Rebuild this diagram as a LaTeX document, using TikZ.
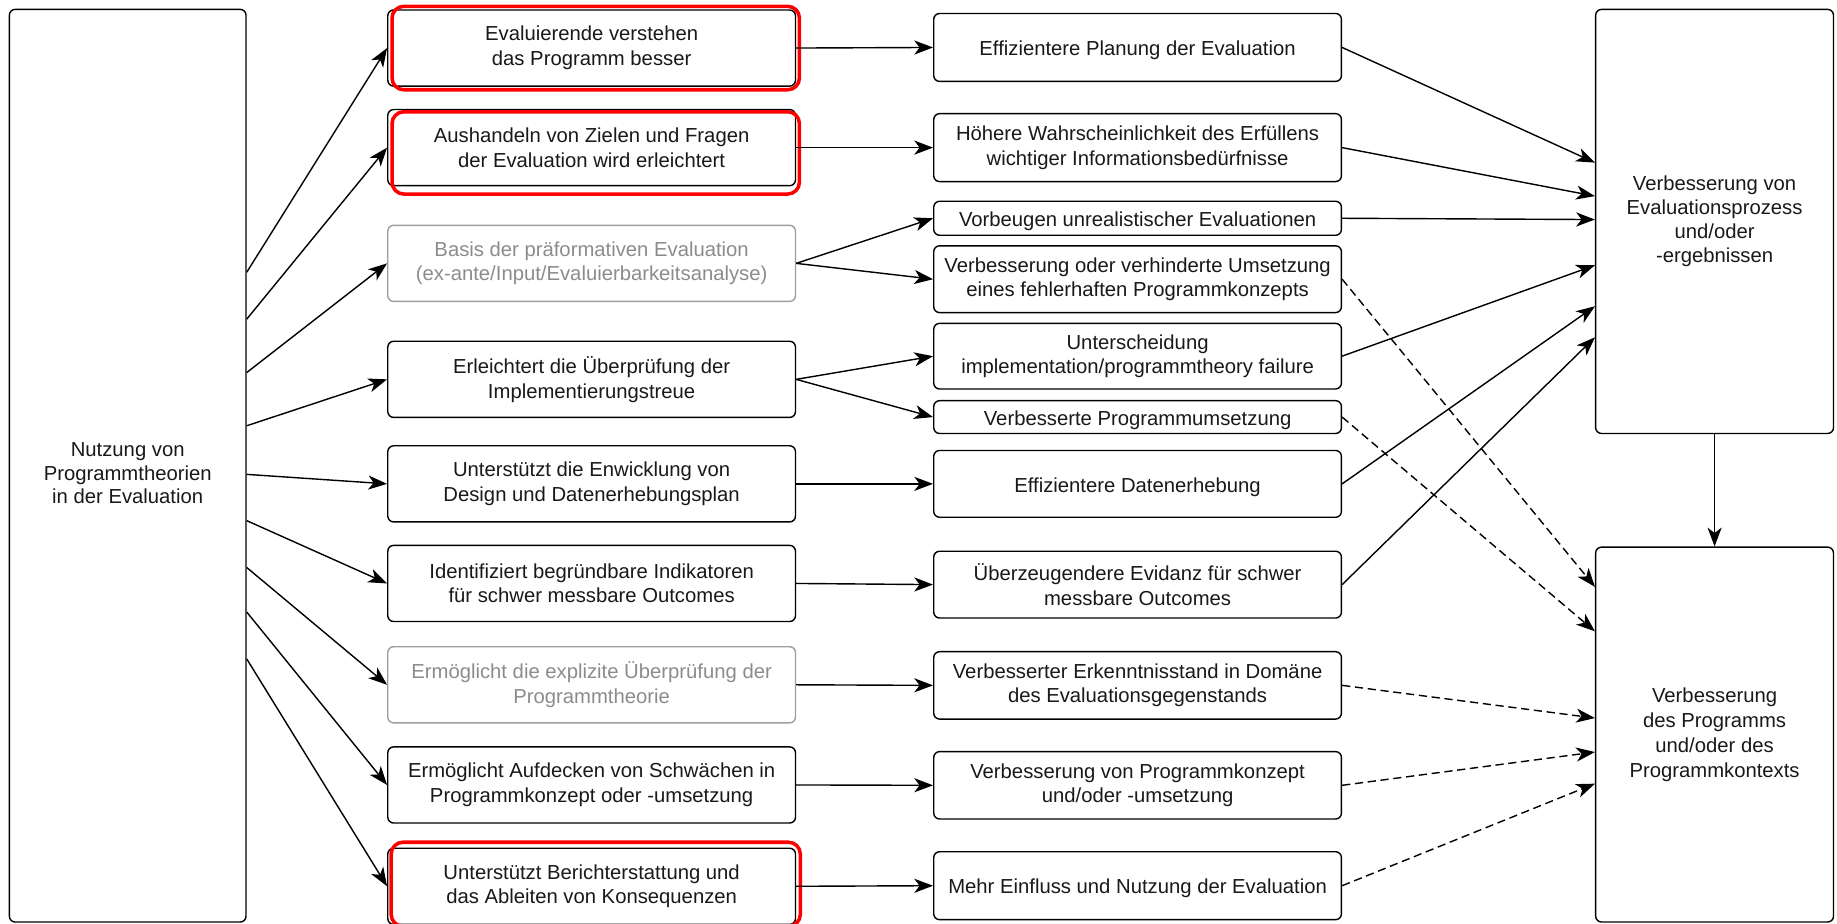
\documentclass[tikz,border=0pt]{standalone}
\usepackage{fontspec}
\setmainfont{Liberation Sans}
\usetikzlibrary{arrows.meta,calc}
\begin{document}
\begin{tikzpicture}[x=1pt,y=-1pt,
  box/.style={draw=black, line width=1.2pt, rounded corners=5pt, fill=white, align=center,
    minimum width=348pt, inner sep=0pt, font=\fontsize{17.3}{21}\selectfont, text=black!90,
    execute at begin node={\rule{0pt}{17.5pt}}},
  graybox/.style={box, draw=black!38, text=black!45},
  redbox/.style={draw=red, line width=3pt, rounded corners=10pt},
  arr/.style={line width=1.2pt, -{Stealth[length=16pt,width=12pt,inset=4.5pt]}},
  darr/.style={arr, dash pattern=on 7pt off 4pt},
]
\useasboundingbox (0,0) rectangle (1568,788);
\fill[white] (0,0) rectangle (1568,788);

% left box
\node[box, minimum width=202pt, minimum height=779pt, execute at begin node={}] (L) at (109,397.5) {};
\node[align=center, font=\fontsize{17.3}{20}\selectfont, text=black!90] (Ltxt) at (109,404)
  {Nutzung von\\Programmtheorien\\in der Evaluation};

% column 2
\begin{scope}[every node/.append style={minimum width=348.5pt, minimum height=65pt}]
\node[box] (a1) at (505,41) {Evaluierende verstehen\\das Programm besser};
\node[box] (a2) at (505,126) {Aushandeln von Zielen und Fragen\\der Evaluation wird erleichtert};
\node[graybox] (a3) at (505,224.8) {Basis der präformativen Evaluation\\(ex-ante/Input/Evaluierbarkeitsanalyse)};
\node[box] (a4) at (505,323.8) {Erleichtert die Überprüfung der\\Implementierungstreue};
\node[box] (a5) at (505,413) {Unterstützt die Enwicklung von\\Design und Datenerhebungsplan};
\node[box] (a6) at (505,498) {Identifiziert begründbare Indikatoren\\für schwer messbare Outcomes};
\node[graybox] (a7) at (505,584.5) {Ermöglicht die explizite Überprüfung der\\Programmtheorie};
\node[box] (a8) at (505,670) {Ermöglicht Aufdecken von Schwächen in\\Programmkonzept oder -umsetzung};
\node[box] (a9) at (505,756.5) {Unterstützt Berichterstattung und\\das Ableiten von Konsequenzen};
\end{scope}

% column 3
\node[box, minimum height=58pt] (b1) at (971,40.5) {Effizientere Planung der Evaluation};
\node[box, minimum height=58pt] (b2) at (971,126) {Höhere Wahrscheinlichkeit des Erfüllens\\wichtiger Informationsbedürfnisse};
\node[box, minimum height=29pt] (b3) at (971,186.3) {Vorbeugen unrealistischer Evaluationen};
\node[box, minimum height=57pt] (b4) at (971,238.3) {Verbesserung oder verhinderte Umsetzung\\eines fehlerhaften Programmkonzepts};
\node[box, minimum height=56pt] (b5) at (971,304) {Unterscheidung\\implementation/programmtheory failure};
\node[box, minimum height=28pt] (b6) at (971,356) {Verbesserte Programmumsetzung};
\node[box, minimum height=57pt] (b7) at (971,413) {Effizientere Datenerhebung};
\node[box, minimum height=57pt] (b8) at (971,499) {Überzeugendere Evidanz für schwer\\messbare Outcomes};
\node[box, minimum height=57.5pt] (b9) at (971,585) {Verbesserter Erkenntnisstand in Domäne\\des Evaluationsgegenstands};
\node[box, minimum height=57.5pt] (b10) at (971,670.3) {Verbesserung von Programmkonzept\\und/oder -umsetzung};
\node[box, minimum height=58pt] (b11) at (971,756) {Mehr Einfluss und Nutzung der Evaluation};

% column 4
\node[box, minimum width=203pt, minimum height=362pt, font=\fontsize{17.3}{20.5}\selectfont,
  execute at begin node={}] (T) at (1463.5,189)
  {Verbesserung von\\Evaluationsprozess\\und/oder\\-ergebnissen};
\node[box, minimum width=203pt, minimum height=320pt, font=\fontsize{17.3}{21.5}\selectfont,
  execute at begin node={}] (B) at (1463.5,627)
  {Verbesserung\\des Programms\\und/oder des\\Programmkontexts};

% red highlight frames
\draw[redbox] ($(a1.north west)+(4.25,-2.5)$) rectangle ($(a1.south east)+(2.75,2.5)$);
\draw[redbox] ($(a2.north west)+(4.25,2.5)$) rectangle ($(a2.south east)+(2.75,6.5)$);
\draw[redbox] ($(a9.north west)+(3.5,-4.5)$) rectangle ($(a9.south east)+(3.5,1)$);

% left box -> column 2
\draw[arr] ($(L.north east)+(0,225)$) -- (a1.west);
\draw[arr] ($(L.north east)+(0,265)$) -- (a2.west);
\draw[arr] ($(L.north east)+(0,310.6)$) -- (a3.west);
\draw[arr] ($(L.north east)+(0,356)$) -- (a4.west);
\draw[arr] ($(L.north east)+(0,397.5)$) -- (a5.west);
\draw[arr] ($(L.north east)+(0,437)$) -- (a6.west);
\draw[arr] ($(L.north east)+(0,477)$) -- (a7.west);
\draw[arr] ($(L.north east)+(0,515)$) -- (a8.west);
\draw[arr] ($(L.north east)+(0,555)$) -- (a9.west);

% column 2 -> column 3
\draw[arr] (a1.east) -- (b1.west);
\draw[arr] (a2.east) -- (b2.west);
\draw[arr] (a3.east) -- (b3.west);
\draw[arr] (a3.east) -- (b4.west);
\draw[arr] (a4.east) -- (b5.west);
\draw[arr] (a4.east) -- (b6.west);
\draw[arr] (a5.east) -- (b7.west);
\draw[arr] (a6.east) -- (b8.west);
\draw[arr] (a7.east) -- (b9.west);
\draw[arr] (a8.east) -- (b10.west);
\draw[arr] (a9.east) -- (b11.west);

% column 3 -> column 4
\draw[arr] (b1.east) -- ($(T.north west)+(0,131.4)$);
\draw[arr] (b2.east) -- ($(T.north west)+(0,160)$);
\draw[arr] (b3.east) -- ($(T.north west)+(0,180)$);
\draw[arr] (b5.east) -- ($(T.north west)+(0,219)$);
\draw[arr] (b7.east) -- ($(T.north west)+(0,254)$);
\draw[arr] (b8.east) -- ($(T.north west)+(0,280.5)$);
\draw[darr] (b4.east) -- ($(B.north west)+(0,34.5)$);
\draw[darr] (b6.east) -- ($(B.north west)+(0,72.5)$);
\draw[darr] (b9.east) -- ($(B.north west)+(0,146.5)$);
\draw[darr] (b10.east) -- ($(B.north west)+(0,175.5)$);
\draw[darr] (b11.east) -- ($(B.north west)+(0,202.5)$);

\draw[arr] (T.south) -- (B.north);
\end{tikzpicture}
\end{document}
